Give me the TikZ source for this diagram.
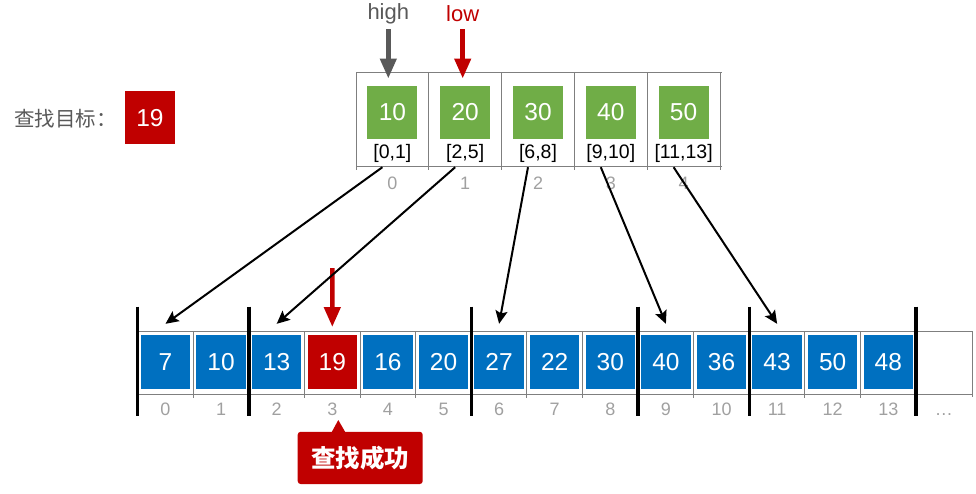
\documentclass[tikz,border=0pt]{standalone}
\usepackage{fontspec}
\setmainfont{Liberation Sans}
\newfontfamily\cjk{Noto Sans CJK SC}
\usetikzlibrary{arrows.meta,calc}
\definecolor{cgreen}{HTML}{70AD47}
\definecolor{cblue}{HTML}{0070C0}
\definecolor{cred}{HTML}{C00000}
\definecolor{cdgray}{HTML}{595959}
\definecolor{cidx}{HTML}{A0A0A0}
\definecolor{cgrid}{HTML}{7F7F7F}
\tikzset{
  gridline/.style={draw=cgrid, line width=0.9pt},
  bar/.style={draw=black, line width=3.5pt},
  gbox/.style={fill=cgreen, text=white, minimum width=50pt, minimum height=52.6pt, inner sep=0pt, font=\fontsize{24.5pt}{28pt}\selectfont},
  bbox/.style={fill=cblue, text=white, minimum width=49.5pt, minimum height=54pt, inner sep=0pt, font=\fontsize{24.5pt}{28pt}\selectfont},
  rbox/.style={bbox, fill=cred},
  rng/.style={text=black, inner sep=0pt, font=\fontsize{19.5pt}{22pt}\selectfont},
  idx/.style={text=cidx, inner sep=0pt, font=\fontsize{18pt}{20pt}\selectfont},
  fat/.style={line width=4.5pt, -{Triangle[width=16pt,length=20pt]}},
  conn/.style={draw=black, line width=2pt, -{Stealth[width=12pt,length=13pt,inset=2.5pt]}},
}
\begin{document}
\begin{tikzpicture}[x=1pt,y=-1pt]
\useasboundingbox (0,0) rectangle (976,493);
% ---------- top table grid ----------
\draw[gridline] (356,72.7) -- (722,72.7);
\draw[gridline] (356,166.7) -- (722,166.7);
\foreach \i in {0,...,5} {
  \draw[gridline] ({356+72.8*\i},72.7) -- ({356+72.8*\i},169.5);
}
% ---------- top table content ----------
\foreach \v/\r [count=\i from 0] in {10/{[0,1]},20/{[2,5]},30/{[6,8]},40/{[9,10]},50/{[11,13]}} {
  \node[gbox] (g\i) at ({392.4+72.8*\i},112.3) {\v};
  \node[rng] (r\i) at ({392.4+72.8*\i},153.7) {\r};
  \node[idx] (t\i) at ({392.4+72.8*\i},183.5) {\i};
}
% ---------- high / low ----------
\node[text=cdgray, inner sep=0pt, font=\fontsize{22pt}{26pt}\selectfont] (hightxt) at (388.3,13.5) {high};
\node[text=cred, inner sep=0pt, font=\fontsize{22pt}{26pt}\selectfont] (lowtxt) at (462.7,13.5) {low};
\coordinate (hightip) at (388.3,78.5);
\coordinate (lowtip) at (462.7,78.5);
\draw[fat, cdgray] (hightxt.south |- 0,29) -- (hightip);
\draw[fat, cred] (lowtxt.south |- 0,29) -- (lowtip);
% ---------- target ----------
\node[text=cdgray, anchor=west, inner sep=0pt, font=\cjk\fontsize{20.5pt}{24pt}\selectfont] (goal) at (14,118.5) {查找目标：};
\node[fill=cred, text=white, minimum width=50pt, minimum height=53pt, inner sep=0pt, font=\fontsize{24.5pt}{28pt}\selectfont] (goalv) at (150,117.7) {19};
% ---------- bottom table grid ----------
\draw[gridline] (137.7,331.7) -- (972.5,331.7);
\draw[gridline] (137.7,394.3) -- (972.5,394.3);
\foreach \i in {0,...,14} {
  \draw[gridline] ({137.7+55.6*\i},331.7) -- ({137.7+55.6*\i},398);
}
\draw[gridline] (972.5,331.7) -- (972.5,397);
% ---------- bottom table content ----------
\foreach \v [count=\i from 0] in {7,10,13,19,16,20,27,22,30,40,36,43,50,48} {
  \ifnum\i=3
    \node[rbox] (b\i) at ({165.5+55.6*\i},362) {\v};
  \else
    \node[bbox] (b\i) at ({165.5+55.6*\i},362) {\v};
  \fi
  \node[idx] (n\i) at ({165.5+55.6*\i},409.5) {\i};
}
\node[idx, anchor=base] (n14) at ($(n13.base)+(55.6,0)$) {…};
% thick bars
\foreach \i in {0,2,6,9,11,14} {
  \draw[bar] ({137.7+55.6*\i},306.7) -- ({137.7+55.6*\i},416);
}
% red pointer to 19
\coordinate (redtip) at (332.3,327);
\draw[fat, cred] (b3.north |- 0,268) -- (redtip);
% ---------- connectors ----------
\foreach \a/\b in {0/0,1/2,2/6,3/9,4/11} {
  \coordinate (s\a) at ($(r\a.center)+(-10,13.5)$);
  \draw[conn] (s\a) -- ($(b\b.north)+(0,-11)$);
}
% ---------- callout ----------
\node[fill=cred, text=white, rounded corners=3pt, minimum width=125pt, minimum height=52.3pt, inner sep=0pt, font=\cjk\bfseries\fontsize{24.5pt}{28pt}\selectfont] (ok) at (360.2,457.9) {查找成功};
\fill[cred] (331.5,432.5) -- (338.3,420) -- (345.5,432.5) -- cycle;
\end{tikzpicture}
\end{document}
